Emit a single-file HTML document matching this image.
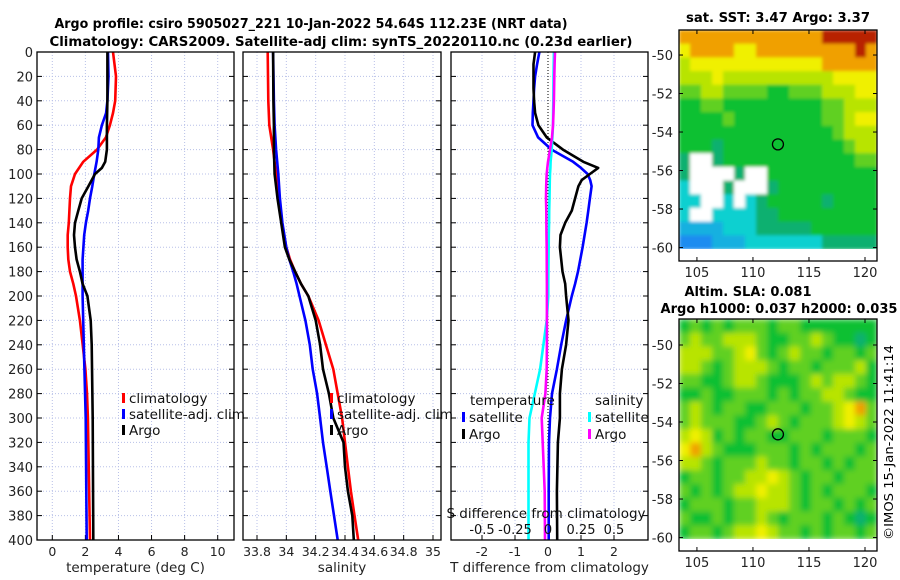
<!DOCTYPE html>
<html><head><meta charset="utf-8"><style>
html,body{margin:0;padding:0;background:#fff;}
svg{display:block;font-family:"DejaVu Sans","Liberation Sans",sans-serif;}
</style></head><body>
<svg id="fig" width="900" height="580" viewBox="0 0 900 580" xmlns="http://www.w3.org/2000/svg">
<defs>
<filter id="blur1" x="-5%" y="-5%" width="110%" height="110%"><feGaussianBlur stdDeviation="1.5"/></filter>
<filter id="blur2" x="-5%" y="-5%" width="110%" height="110%"><feGaussianBlur stdDeviation="3"/></filter>
<clipPath id="clip1"><rect x="679" y="30" width="198" height="219"/></clipPath>
<clipPath id="clip2"><rect x="679" y="319" width="198" height="220"/></clipPath>
</defs>
<rect width="900" height="580" fill="#fff"/>
<text x="311" y="28" font-size="13.5" font-weight="bold" text-anchor="middle" textLength="513" lengthAdjust="spacingAndGlyphs">Argo profile: csiro 5905027_221 10-Jan-2022 54.64S 112.23E (NRT data)</text>
<text x="341" y="46" font-size="13.5" font-weight="bold" text-anchor="middle" textLength="583" lengthAdjust="spacingAndGlyphs">Climatology: CARS2009. Satellite-adj clim: synTS_20220110.nc (0.23d earlier)</text>
<g id="plots"></g>
<text x="778" y="22" font-size="13" font-weight="bold" text-anchor="middle" textLength="184" lengthAdjust="spacingAndGlyphs">sat. SST: 3.47 Argo: 3.37</text>
<text x="748" y="296" font-size="13" font-weight="bold" text-anchor="middle" textLength="127" lengthAdjust="spacingAndGlyphs">Altim. SLA: 0.081</text>
<text x="779" y="313" font-size="13" font-weight="bold" text-anchor="middle" textLength="237" lengthAdjust="spacingAndGlyphs">Argo h1000: 0.037 h2000: 0.035</text>
<text transform="translate(893,540) rotate(-90)" font-size="12.5" textLength="195" lengthAdjust="spacingAndGlyphs">©IMOS 15-Jan-2022 11:41:14</text>
</svg>
<script>
// ---- data ----
const depthT=[0,20,40,50,60,70,80,90,100,110,120,140,150,160,170,180,190,200,220,240,260,280,300,400];
const tempClim=[3.67,3.85,3.8,3.67,3.48,3.24,2.7,1.87,1.37,1.13,1.07,1.0,0.93,0.93,0.97,1.07,1.27,1.43,1.67,1.84,2.0,2.1,2.15,2.28];
const depthTS=[0,20,40,50,60,70,80,90,100,110,120,130,140,150,170,200,250,300,400];
const tempSat=[3.37,3.4,3.33,3.25,3.0,2.82,2.78,2.68,2.54,2.42,2.28,2.17,2.03,1.93,1.83,1.83,1.92,2.02,2.08];
const depthTA=[0,40,60,80,90,95,100,110,120,130,140,150,160,170,180,190,200,220,240,300,400];
const tempArgo=[3.33,3.33,3.3,3.3,3.2,3.0,2.58,2.18,1.78,1.57,1.37,1.31,1.37,1.47,1.67,1.83,2.12,2.32,2.38,2.44,2.48];
const depthS=[0,40,60,80,100,120,140,160,170,180,190,200,220,240,260,280,300,320,340,360,380,400];
const salClim=[33.873,33.877,33.884,33.91,33.93,33.945,33.968,34.0,34.025,34.06,34.1,34.15,34.22,34.27,34.32,34.35,34.38,34.4,34.42,34.44,34.465,34.49];
const salSat=[33.91,33.915,33.92,33.93,33.945,33.956,33.973,34.0,34.02,34.047,34.07,34.09,34.13,34.16,34.18,34.21,34.23,34.25,34.275,34.3,34.325,34.35];
const salArgo=[33.91,33.912,33.915,33.915,33.92,33.94,33.965,33.99,34.02,34.06,34.1,34.15,34.2,34.23,34.25,34.29,34.32,34.39,34.40,34.42,34.45,34.46];
const depthD=[0,10,20,30,40,50,60,70,80,90,95,100,105,110,120,130,140,150,160,180,190,200,220,240,260,280,300,320,360,400];
const tDiffSat=[-0.26,-0.33,-0.39,-0.42,-0.44,-0.46,-0.47,-0.3,0.11,0.76,1.0,1.2,1.28,1.32,1.27,1.22,1.17,1.11,1.05,0.91,0.82,0.72,0.55,0.4,0.27,0.12,0.06,0.03,0.02,0.02];
const tDiffArgo=[-0.39,-0.44,-0.44,-0.44,-0.42,-0.39,-0.29,-0.04,0.45,1.07,1.52,1.27,1.02,0.92,0.82,0.72,0.52,0.38,0.36,0.44,0.52,0.55,0.62,0.55,0.42,0.36,0.36,0.3,0.27,0.28];
const sDiffSat=[0.045,0.043,0.042,0.041,0.04,0.039,0.038,0.033,0.028,0.02,0.018,0.015,0.014,0.013,0.011,0.009,0.008,0.006,0.005,0.003,0.002,0.002,-0.01,-0.035,-0.06,-0.1,-0.14,-0.148,-0.148,-0.148];
const sDiffArgo=[0.053,0.05,0.048,0.046,0.045,0.042,0.038,0.03,0.015,0.0,-0.005,-0.01,-0.012,-0.014,-0.015,-0.013,-0.012,-0.011,-0.01,-0.009,-0.008,-0.008,-0.008,-0.008,-0.01,-0.02,-0.048,-0.04,-0.025,-0.023];
const depthTicks=[0,20,40,60,80,100,120,140,160,180,200,220,240,260,280,300,320,340,360,380,400];
const tempTicks=[0,2,4,6,8,10];
const salTicks=[33.8,34,34.2,34.4,34.6,34.8,35];
const tDiffTicks=[-2,-1,0,1,2];
const sDiffTicks=[-0.5,-0.25,0,0.25,0.5];
const lonTicks=[105,110,115,120];
const latTicks=[-50,-52,-54,-56,-58,-60];
const argoLon=112.23, argoLat=-54.64;
// heatmap level grids (w = missing), north row first
const sstGrid=[
"888888888888899999",
"788887788888888898",
"677777777777788888",
"666766666666667777",
"556655554455566677",
"445544444444455666",
"444454444444455677",
"444444444444445666",
"444344444444444566",
"3ww344444444444455",
"3wwww3ww4444444444",
"2www3www3444444444",
"22ww2w23444443444",
"2ww22223344444444",
"111122233333444444",
"000111222222233333"];
const slaGrid=[
"454545554554444444",
"565566654455654434",
"666556754565545545",
"665456665455455564",
"554456654445656654",
"445445554545566544",
"565455445554556785",
"565554456545556765",
"676454554455545554",
"786544455545455545",
"665455565545545455",
"455455667654554555",
"545456676654545554",
"455545566654554545",
"544545565455545434",
"455456676554545545"];
const levelColor=["#1a8cf0","#12b0e0","#10d0d0","#10b070","#10c030","#60d020","#b8e400","#f0f000","#f0a000","#b82000"];

// ---- helpers ----
const NS="http://www.w3.org/2000/svg";
const root=document.getElementById('plots');
function mk(tag,attrs,parent){const e=document.createElementNS(NS,tag);for(const k in attrs)e.setAttribute(k,attrs[k]);(parent||root).appendChild(e);return e;}
const Y0=52,Y1=540;
function yD(d){return Y0+(Y1-Y0)*d/400;}
function linPx(v0,p0,v1,p1){return v=>p0+(v-v0)*(p1-p0)/(v1-v0);}

function panel(name,L,R,xf,xt,showY,xlabel){
  const g=mk('g',{});
  
  
  for(const t of xt){const x=xf(t);const l=mk('line',{x1:x,x2:x,y1:Y0,y2:Y1,stroke:'#b8c0e8','stroke-width':1,'stroke-dasharray':'1,2'},g);
    
    mk('line',{x1:x,x2:x,y1:Y1,y2:Y1-5,stroke:'#000'},g);}
  for(const d of depthTicks){const y=yD(d);const l=mk('line',{x1:L,x2:R,y1:y,y2:y,stroke:'#b8c0e8','stroke-width':1,'stroke-dasharray':'1,2'},g);
    
    mk('line',{x1:L,x2:L+5,y1:y,y2:y,stroke:'#000'},g);mk('line',{x1:R,x2:R-5,y1:y,y2:y,stroke:'#000'},g);
    if(showY){const t=mk('text',{x:L-4,y:y+5,'font-size':13,'text-anchor':'end',fill:'#222'},g);t.textContent=d;
      }}
  for(const t of xt){const tx=mk('text',{x:xf(t),y:556,'font-size':12.5,'text-anchor':'middle',fill:'#222'},g);tx.textContent=t;
    }
  const xl=mk('text',{x:(L+R)/2,y:572,'font-size':13.5,'text-anchor':'middle',fill:'#222'},g);xl.textContent=xlabel;
  
  return g;
}
function frame(g,L,R){const r=mk('rect',{x:L,y:Y0,width:R-L,height:Y1-Y0,fill:'none',stroke:'#000','stroke-width':1.3},g);
  }
function series(g,name,depths,vals,xf,color){
  const pts=depths.map((d,i)=>xf(vals[i]).toFixed(1)+','+yD(d).toFixed(1)).join(' ');
  const p=mk('polyline',{points:pts,fill:'none',stroke:color,'stroke-width':2.6,'stroke-linejoin':'round'},g);
  }
function legend(g,x,y,color,label,name){
  const m=mk('rect',{x:x,y:y-9,width:3,height:10,fill:color},g);
  
  const t=mk('text',{x:x+7,y:y+1,'font-size':13.5,fill:'#111'},g);t.textContent=label;
  }

// Panel 1 temperature
const xT=linPx(0,52.3,10,217.7);
let g=panel('temperature-panel',37,234,xT,tempTicks,true,'temperature (deg C)');
series(g,'temp-climatology-line',depthT,tempClim,xT,'#f00');
series(g,'temp-satellite-line',depthTS,tempSat,xT,'#00f');
series(g,'temp-argo-line',depthTA,tempArgo,xT,'#000');
frame(g,37,234);
legend(g,122,402,'#f00','climatology','legend-climatology');
legend(g,122,418,'#00f','satellite-adj. clim','legend-satellite');
legend(g,122,434,'#000','Argo','legend-argo');

// Panel 2 salinity
const xS=linPx(33.8,257,35,433);
g=panel('salinity-panel',243,441,xS,salTicks,false,'salinity');
series(g,'sal-climatology-line',depthS,salClim,xS,'#f00');
series(g,'sal-satellite-line',depthS,salSat,xS,'#00f');
series(g,'sal-argo-line',depthS,salArgo,xS,'#000');
frame(g,243,441);
legend(g,330,402,'#f00','climatology','legend-climatology-sal');
legend(g,330,418,'#00f','satellite-adj. clim','legend-satellite-sal');
legend(g,330,434,'#000','Argo','legend-argo-sal');

// Panel 3 differences
const xDT=linPx(0,548,1,581);
const xDS=linPx(0,548,0.25,581);
g=panel('difference-panel',451,648,xDT,tDiffTicks,false,'T difference from climatology');
const zl=mk('line',{x1:xDT(0),x2:xDT(0),y1:Y0,y2:Y1,stroke:'#000','stroke-width':1,'stroke-dasharray':'1,2'},g);

series(g,'tdiff-satellite-line',depthD,tDiffSat,xDT,'#00f');
series(g,'tdiff-argo-line',depthD,tDiffArgo,xDT,'#000');
series(g,'sdiff-satellite-line',depthD,sDiffSat,xDS,'#0ff');
series(g,'sdiff-argo-line',depthD,sDiffArgo,xDS,'#f0f');
frame(g,451,648);
let tt=mk('text',{x:470,y:405,'font-size':13.5,fill:'#111'},g);tt.textContent='temperature';

tt=mk('text',{x:595,y:405,'font-size':13.5,fill:'#111'},g);tt.textContent='salinity';

legend(g,462,421,'#00f','satellite','legend-t-satellite');
legend(g,462,438,'#000','Argo','legend-t-argo');
legend(g,588,421,'#0ff','satellite','legend-s-satellite');
legend(g,588,438,'#f0f','Argo','legend-s-argo');
tt=mk('text',{x:546,y:518,'font-size':13.5,'text-anchor':'middle',fill:'#111'},g);tt.textContent='S difference from climatology';

for(const s of sDiffTicks){const t=mk('text',{x:xDS(s),y:534,'font-size':13,'text-anchor':'middle',fill:'#111'},g);t.textContent=s;
  }

// Maps
function map(name,top,bottom,dataBottom,grid,latTop,clipId,filterId){
  const L=679,R=877;
  const lonF=linPx(103.4,L,121.07,R);
  const latS=(bottom-top)/(latTop+60.7);
  const yLat=v=>top+(latTop-v)*latS;
  const gm=mk('g',{});
  
  const clipG=mk('g',{'clip-path':'url(#'+clipId+')'},gm);
  const cells=mk('g',{filter:'url(#'+filterId+')'},clipG);
  const rows=grid.length, cols=grid[0].length;
  const ch=(dataBottom-top)/rows, cw=(R-L)/cols;
  for(let r=0;r<rows;r++){for(let c=0;c<cols;c++){const k=grid[r][c]||'4';
    const fill=k==='w'?'#fff':levelColor[+k];
    const cell=mk('rect',{x:(L+c*cw).toFixed(2),y:(top+r*ch).toFixed(2),width:(cw+0.6).toFixed(2),height:(ch+0.6).toFixed(2),fill:fill},cells);
    }}
  const fr=mk('rect',{x:L,y:top,width:R-L,height:bottom-top,fill:'none',stroke:'#000','stroke-width':1.3},gm);
  
  for(const lo of lonTicks){const x=lonF(lo);mk('line',{x1:x,x2:x,y1:bottom,y2:bottom-4,stroke:'#000'},gm);mk('line',{x1:x,x2:x,y1:top,y2:top+4,stroke:'#000'},gm);
    const t=mk('text',{x:x,y:bottom+16,'font-size':13,'text-anchor':'middle',fill:'#222'},gm);t.textContent=lo;
    }
  for(const la of latTicks){const y=yLat(la);mk('line',{x1:L,x2:L+4,y1:y,y2:y,stroke:'#000'},gm);mk('line',{x1:R,x2:R-4,y1:y,y2:y,stroke:'#000'},gm);
    const t=mk('text',{x:L-6,y:y+5,'font-size':13,'text-anchor':'end',fill:'#222'},gm);t.textContent=la;
    }
  const c=mk('circle',{cx:lonF(argoLon),cy:yLat(argoLat),r:5.5,fill:'none',stroke:'#000','stroke-width':1.3},gm);
  
}
map('sst-map',30,261,249,sstGrid,-48.7,'clip1','blur1');
map('sla-map',319,551,539,slaGrid,-48.65,'clip2','blur2');
</script>
</body></html>
